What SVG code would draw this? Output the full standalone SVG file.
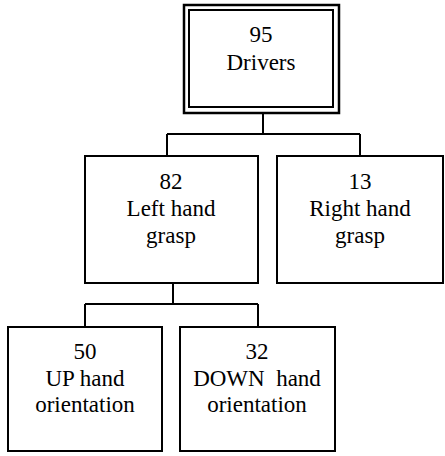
<svg xmlns="http://www.w3.org/2000/svg" width="445" height="456" viewBox="0 0 445 456">
<style>
.box{fill:#fff;stroke:#000;stroke-width:2}
.t{font-family:'Times New Roman',Times,'Liberation Serif',serif;font-size:23px;fill:#000;text-anchor:middle}
.c{fill:none;stroke:#000;stroke-width:2}
</style>
<rect width="445" height="456" fill="#fff"/>
<g id="connectors">
<path class="c" d="M263 113V134M167 134H360M167 134V156M360 134V156"/>
<path class="c" d="M173 283V304M85 304H258M85 304V327M258 304V327"/>
</g>
<g id="n95">
<rect x="184" y="5" width="155" height="108" fill="#fff" stroke="#000" stroke-width="2.5"/>
<rect x="189" y="10" width="144" height="97" class="box"/>
<text class="t" x="261" y="42">95</text>
<text class="t" x="261" y="70">Drivers</text>
</g>
<g id="n82">
<rect x="85" y="156" width="173" height="127" class="box"/>
<text class="t" x="171" y="189">82</text>
<text class="t" x="171" y="216">Left hand</text>
<text class="t" x="171" y="243">grasp</text>
</g>
<g id="n13">
<rect x="277" y="156" width="166" height="127" class="box"/>
<text class="t" x="360" y="189">13</text>
<text class="t" x="360" y="216">Right hand</text>
<text class="t" x="360" y="243">grasp</text>
</g>
<g id="n50">
<rect x="8" y="327" width="154" height="124" class="box"/>
<text class="t" x="85" y="359">50</text>
<text class="t" x="85" y="386">UP hand</text>
<text class="t" x="85" y="412">orientation</text>
</g>
<g id="n32">
<rect x="180" y="327" width="155" height="124" class="box"/>
<text class="t" x="257" y="359">32</text>
<text class="t" x="257" y="386" xml:space="preserve">DOWN  hand</text>
<text class="t" x="257" y="412">orientation</text>
</g>
</svg>
